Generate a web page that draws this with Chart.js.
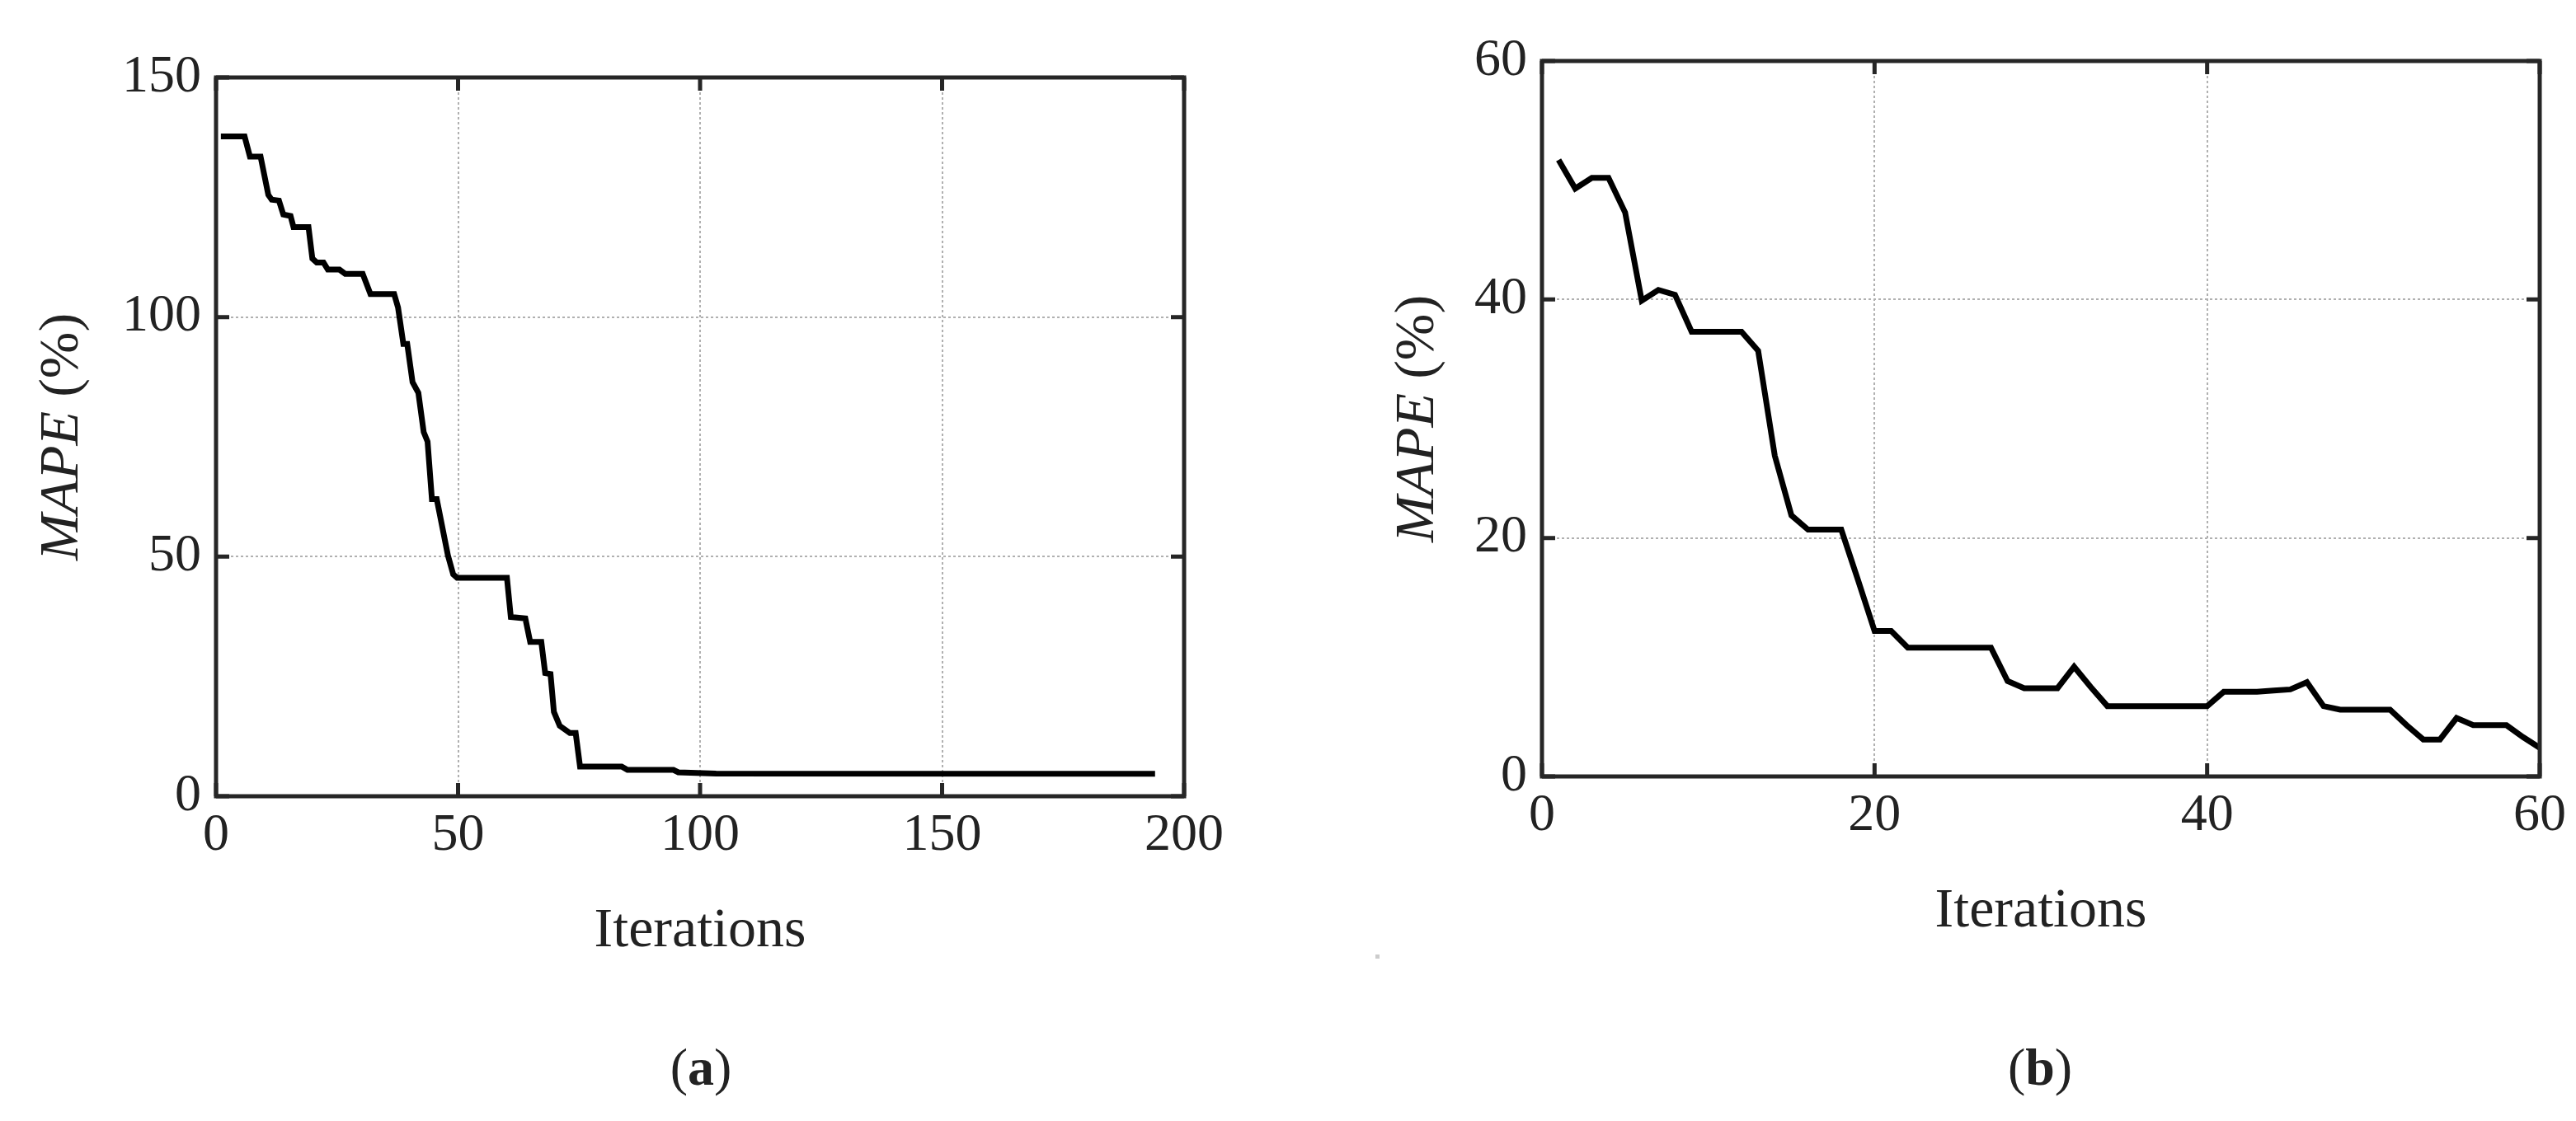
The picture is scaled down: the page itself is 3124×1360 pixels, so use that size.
<!DOCTYPE html>
<html>
<head>
<meta charset="utf-8">
<script src="https://cdn.jsdelivr.net/npm/chart.js@4.4.1/dist/chart.umd.min.js"></script>
<style>
  html, body { margin: 0; padding: 0; background: #fff; }
  body { width: 3124px; height: 1360px; position: relative; overflow: hidden; font-family: "Liberation Serif", serif; }
  .wrap { position: absolute; }
  .cap { position: absolute; font-size: 64px; color: #222; transform: translateX(-50%); top: 1258px; }
  .cap b { font-weight: bold; }
  .dot { position: absolute; left: 1668px; top: 1158px; width: 5px; height: 5px; background: #ccc; }
</style>
</head>
<body>
<div class="wrap" style="left:0;top:0;width:1500px;height:1196px"><canvas id="chartA"></canvas></div>
<div class="wrap" style="left:1560px;top:0;width:1564px;height:1172px"><canvas id="chartB"></canvas></div>
<div class="cap" style="left:850px">(<b>a</b>)</div>
<div class="cap" style="left:2474px">(<b>b</b>)</div>
<div class="dot"></div>
<script>
// ---- data ----
// (a) step-like convergence, breakpoints [iteration, MAPE]
const iterA = [1, 5.9, 7, 9.2, 10.8, 11.5, 13, 13.9, 15.4, 16, 19.1, 19.9, 20.8, 22.2, 23.1, 25.5, 26.7, 30.3, 31.9, 36.8,
  37.6, 38.7, 39.5, 40.6, 41.8, 42.9, 43.7, 44.6, 45.6, 47.9, 49, 49.8, 60.1, 60.9, 63.9, 64.9, 67.2, 68, 69.1, 69.8,
  71, 73.1, 74.3, 75.2, 83.8, 85, 94.5, 95.5, 103.3, 194];
const mapeA = [137.7, 137.7, 133.5, 133.5, 125.5, 124.5, 124.3, 121.4, 121.1, 118.8, 118.8, 112.2, 111.4, 111.4, 109.9, 109.9, 109, 109, 104.8, 104.8,
  102, 94.4, 94.4, 86.4, 84.2, 76, 74, 62, 62, 50.3, 46.3, 45.6, 45.6, 37.4, 37.1, 32.2, 32.2, 25.7, 25.5, 17.6,
  14.7, 13.2, 13.2, 6.2, 6.2, 5.5, 5.5, 5.0, 4.75, 4.7];

// (b) one value per iteration 1..60
const iterB = Array.from({ length: 60 }, (_, i) => i + 1);
const mapeB = [51.7, 49.3, 50.2, 50.2, 47.3, 39.9, 40.8, 40.4, 37.3, 37.3,
  37.3, 37.3, 35.7, 26.9, 21.9, 20.7, 20.7, 20.7, 16.5, 12.2,
  12.2, 10.8, 10.8, 10.8, 10.8, 10.8, 10.8, 8.0, 7.4, 7.4,
  7.4, 9.2, 7.5, 5.9, 5.9, 5.9, 5.9, 5.9, 5.9, 5.9,
  7.1, 7.1, 7.1, 7.2, 7.3, 7.9, 5.9, 5.6, 5.6, 5.6,
  5.6, 4.3, 3.1, 3.1, 4.9, 4.3, 4.3, 4.3, 3.3, 2.4];

const ticksA_x = [0, 50, 100, 150, 200];
const ticksA_y = [0, 50, 100, 150];
const ticksB_x = [0, 20, 40, 60];
const ticksB_y = [0, 20, 40, 60];

const FONT = "'Liberation Serif', serif";
const INK = "#262626";
const TITLE_SIZE = 68;

// box, inner tick marks and axis titles
const framePlugin = {
  id: "frame",
  afterDraw(chart, args, opts) {
    const { ctx, chartArea: a, scales } = chart;
    ctx.save();
    ctx.strokeStyle = INK;
    ctx.lineWidth = 5;
    ctx.strokeRect(a.left, a.top, a.right - a.left, a.bottom - a.top);
    const tl = 16;
    scales.x.ticks.forEach(t => {
      const px = scales.x.getPixelForValue(t.value);
      ctx.beginPath();
      ctx.moveTo(px, a.bottom); ctx.lineTo(px, a.bottom - tl);
      ctx.moveTo(px, a.top); ctx.lineTo(px, a.top + tl);
      ctx.stroke();
    });
    scales.y.ticks.forEach(t => {
      const py = scales.y.getPixelForValue(t.value);
      ctx.beginPath();
      ctx.moveTo(a.left, py); ctx.lineTo(a.left + tl, py);
      ctx.moveTo(a.right, py); ctx.lineTo(a.right - tl, py);
      ctx.stroke();
    });
    ctx.fillStyle = "#222";
    // x title
    ctx.font = `${TITLE_SIZE}px ${FONT}`;
    ctx.textAlign = "center";
    ctx.textBaseline = "middle";
    ctx.fillText("Iterations", (a.left + a.right) / 2, opts.xTitleY);
    // y title: italic MAPE + (%)
    ctx.translate(opts.yTitleX, (a.top + a.bottom) / 2);
    ctx.rotate(-Math.PI / 2);
    ctx.font = `italic ${TITLE_SIZE}px ${FONT}`;
    const w1 = ctx.measureText("MAPE").width;
    ctx.font = `${TITLE_SIZE}px ${FONT}`;
    const w2 = ctx.measureText(" (%)").width;
    ctx.textAlign = "left";
    ctx.font = `italic ${TITLE_SIZE}px ${FONT}`;
    ctx.fillText("MAPE", -(w1 + w2) / 2, 0);
    ctx.font = `${TITLE_SIZE}px ${FONT}`;
    ctx.fillText(" (%)", -(w1 + w2) / 2 + w1, 0);
    ctx.restore();
  }
};

function buildChart(id, xs, ys, xTicks, yTicks, cfg) {
  const data = xs.map((x, i) => ({ x, y: ys[i] }));
  const tickFont = { family: FONT, size: 64 };
  return new Chart(document.getElementById(id), {
    type: "line",
    data: { datasets: [{ data, borderColor: "#000", borderWidth: 7, pointRadius: 0, tension: 0, fill: false }] },
    options: {
      responsive: true,
      maintainAspectRatio: false,
      animation: false,
      events: [],
      layout: { padding: { top: cfg.top, right: cfg.right, left: 0, bottom: 0 } },
      plugins: { legend: { display: false }, tooltip: { enabled: false }, frame: cfg },
      scales: {
        x: {
          type: "linear", min: xTicks[0], max: xTicks[xTicks.length - 1],
          afterBuildTicks: s => { s.ticks = xTicks.map(v => ({ value: v })); },
          afterFit: s => { s.height = cfg.xH; },
          grid: { color: "#b0b0b0", lineWidth: 2, drawTicks: false },
          border: { display: false, dash: [3, 3] },
          ticks: { color: "#222", font: tickFont, padding: 10, maxRotation: 0 }
        },
        y: {
          min: yTicks[0], max: yTicks[yTicks.length - 1],
          afterBuildTicks: s => { s.ticks = yTicks.map(v => ({ value: v })); },
          afterFit: s => { s.width = cfg.yW; },
          grid: { color: "#b0b0b0", lineWidth: 2, drawTicks: false },
          border: { display: false, dash: [3, 3] },
          ticks: { color: "#222", font: tickFont, padding: 18 }
        }
      }
    },
    plugins: [framePlugin]
  });
}

buildChart("chartA", iterA, mapeA, ticksA_x, ticksA_y,
  { top: 94, right: 64, xH: 230, yW: 262, xTitleY: 1130, yTitleX: 76 });
buildChart("chartB", iterB, mapeB, ticksB_x, ticksB_y,
  { top: 74, right: 44, xH: 230, yW: 310, xTitleY: 1106, yTitleX: 160 });
</script>
</body>
</html>
